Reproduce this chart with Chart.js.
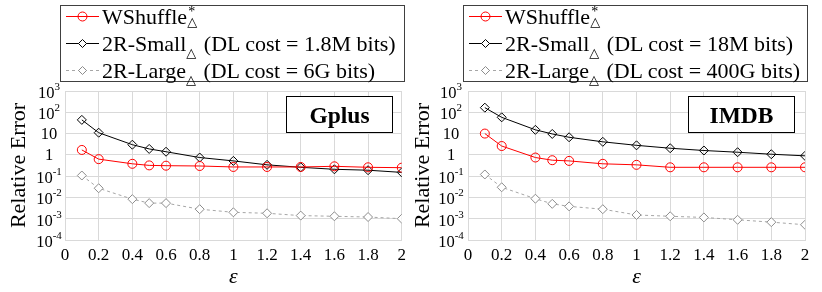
<!DOCTYPE html>
<html><head><meta charset="utf-8">
<script src="https://cdn.jsdelivr.net/npm/chart.js@4"></script>
<style>
body{margin:0;width:822px;height:292px;background:#fff;position:relative;overflow:hidden;font-family:"Liberation Serif","Times New Roman",serif;}
.panel{position:absolute;top:0;width:411px;height:292px;}
.panel canvas{position:absolute;left:0;top:0;}
.legend{position:absolute;top:5px;width:343px;height:75px;border:1px solid #404040;background:#fff;}
.row{position:absolute;left:0;height:27px;font-size:22px;line-height:27px;white-space:nowrap;color:#000;}
.row svg{position:absolute;left:5px;top:0;}
.row .t{position:absolute;left:41px;top:0;}
.stk{display:inline-block;position:relative;width:12px;height:10px;}
.stk .sp{position:absolute;left:1px;top:-9px;font-size:14px;line-height:14px;}
.stk .sb{position:absolute;left:0;top:1px;font-size:13px;line-height:13px;font-family:"DejaVu Sans";}
.sub{font-size:13px;font-family:"DejaVu Sans";position:relative;top:6px;margin-right:2px;}
.tag{position:absolute;top:96px;width:105px;height:35px;border:1px solid #000;background:#fff;font-weight:bold;font-size:23.5px;text-align:center;line-height:36px;color:#000;}
</style></head>
<body>
<div class="panel" style="left:0"><canvas id="c1" width="411" height="292"></canvas>
  <div class="legend" style="left:60px">
    <div class="row" style="top:-3px"><svg width="34" height="27"><line x1="0" y1="13.5" x2="33" y2="13.5" stroke="#ff0000" stroke-width="1"/><circle cx="16.5" cy="13.5" r="4.5" fill="none" stroke="#ff0000"/></svg><span class="t">WShuffle<span class="stk"><span class="sp">*</span><span class="sb">△</span></span></span></div>
    <div class="row" style="top:24px"><svg width="34" height="27"><line x1="0" y1="13.5" x2="33" y2="13.5" stroke="#000" stroke-width="1"/><path d="M12.5 13.5 L16.5 9.5 L20.5 13.5 L16.5 17.5 Z" fill="#fff" stroke="#000"/></svg><span class="t">2R-Small<span class="sub">△</span> (DL cost = 1.8M bits)</span></div>
    <div class="row" style="top:51px"><svg width="34" height="27"><line x1="0" y1="13.5" x2="33" y2="13.5" stroke="#a6a6a6" stroke-width="1" stroke-dasharray="3,3"/><path d="M12.5 13.5 L16.5 9.5 L20.5 13.5 L16.5 17.5 Z" fill="#fff" stroke="#8c8c8c"/></svg><span class="t">2R-Large<span class="sub">△</span> (DL cost = 6G bits)</span></div>
  </div>
  <div class="tag" style="left:286px">Gplus</div>
</div>
<div class="panel" style="left:411px"><canvas id="c2" width="411" height="292"></canvas>
  <div class="legend" style="left:52px">
    <div class="row" style="top:-3px"><svg width="34" height="27"><line x1="0" y1="13.5" x2="33" y2="13.5" stroke="#ff0000" stroke-width="1"/><circle cx="16.5" cy="13.5" r="4.5" fill="none" stroke="#ff0000"/></svg><span class="t">WShuffle<span class="stk"><span class="sp">*</span><span class="sb">△</span></span></span></div>
    <div class="row" style="top:24px"><svg width="34" height="27"><line x1="0" y1="13.5" x2="33" y2="13.5" stroke="#000" stroke-width="1"/><path d="M12.5 13.5 L16.5 9.5 L20.5 13.5 L16.5 17.5 Z" fill="#fff" stroke="#000"/></svg><span class="t">2R-Small<span class="sub">△</span> (DL cost = 18M bits)</span></div>
    <div class="row" style="top:51px"><svg width="34" height="27"><line x1="0" y1="13.5" x2="33" y2="13.5" stroke="#a6a6a6" stroke-width="1" stroke-dasharray="3,3"/><path d="M12.5 13.5 L16.5 9.5 L20.5 13.5 L16.5 17.5 Z" fill="#fff" stroke="#8c8c8c"/></svg><span class="t">2R-Large<span class="sub">△</span> (DL cost = 400G bits)</span></div>
  </div>
  <div class="tag" style="left:277px">IMDB</div>
</div>
<script>
const eps = [0.1, 0.2, 0.4, 0.5, 0.6, 0.8, 1, 1.2, 1.4, 1.6, 1.8, 2];
const xTicks = [0, 0.2, 0.4, 0.6, 0.8, 1, 1.2, 1.4, 1.6, 1.8, 2];
const yExponents = [-4, -3, -2, -1, 0, 1, 2, 3];

const gplusWShuffle = [1.7, 0.63, 0.38, 0.32, 0.31, 0.30, 0.27, 0.27, 0.27, 0.29, 0.26, 0.25];
const gplusSmall    = [44, 11, 3.0, 1.9, 1.4, 0.75, 0.52, 0.34, 0.26, 0.21, 0.19, 0.15];
const gplusLarge    = [0.107, 0.027, 0.0083, 0.0054, 0.0054, 0.0028, 0.0020, 0.0018, 0.0014, 0.0013, 0.0012, 0.0010];

const imdbWShuffle = [10, 2.6, 0.75, 0.56, 0.52, 0.38, 0.34, 0.26, 0.26, 0.26, 0.26, 0.26];
const imdbSmall    = [165, 58, 15, 9.6, 6.7, 4.1, 2.8, 2.05, 1.6, 1.33, 1.07, 0.9];
const imdbLarge    = [0.12, 0.030, 0.0087, 0.0050, 0.0038, 0.0028, 0.0015, 0.0013, 0.00115, 0.00089, 0.00069, 0.00052];

const FONT = '"Liberation Serif", "Times New Roman", serif';

const yLabelPlugin = {
  id: 'yLabels',
  afterDraw(chart) {
    const s = chart.scales.y, ctx = chart.ctx, cx = chart.options.plugins.yLabels.center;
    ctx.save();
    ctx.fillStyle = '#000';
    ctx.textBaseline = 'middle';
    ctx.textAlign = 'left';
    yExponents.forEach(e => {
      const y = s.getPixelForValue(Math.pow(10, e));
      const base = e === 0 ? '1' : '10';
      const sup = (e === 0 || e === 1) ? '' : String(e);
      ctx.font = '16.5px ' + FONT;
      const wb = ctx.measureText(base).width;
      ctx.font = '11px ' + FONT;
      const ws = sup ? ctx.measureText(sup).width : 0;
      const x0 = cx - (wb + ws) / 2;
      ctx.font = '16.5px ' + FONT;
      ctx.fillText(base, x0, y + (sup ? 2.5 : 1));
      if (sup) { ctx.font = '11px ' + FONT; ctx.fillText(sup, x0 + wb, y - 4); }
    });
    ctx.restore();
  }
};

function makeChart(id, ws, small, large, cfg) {
  const pts = arr => eps.map((x, i) => ({x: x, y: arr[i]}));
  return new Chart(document.getElementById(id), {
    type: 'line',
    data: {
      datasets: [
        {label: 'WShuffle', data: pts(ws), borderColor: '#ff0000', borderWidth: 1,
         pointStyle: 'circle', pointRadius: 4.5, pointBorderColor: '#ff0000', pointBorderWidth: 1,
         pointBackgroundColor: 'rgba(0,0,0,0)', tension: 0},
        {label: '2R-Small', data: pts(small), borderColor: '#000', borderWidth: 1,
         pointStyle: 'rectRot', pointRadius: 4.5, pointBorderColor: '#000', pointBorderWidth: 1,
         pointBackgroundColor: 'rgba(255,255,255,0)', tension: 0},
        {label: '2R-Large', data: pts(large), borderColor: '#a6a6a6', borderWidth: 1, borderDash: [3, 3],
         pointStyle: 'rectRot', pointRadius: 4.5, pointBorderColor: '#8c8c8c', pointBorderWidth: 1,
         pointBackgroundColor: '#fff', tension: 0}
      ]
    },
    options: {
      responsive: false, animation: false,
      layout: {padding: {left: 0, right: cfg.padRight, top: 91, bottom: 0}},
      plugins: {legend: {display: false}, tooltip: {enabled: false}, yLabels: {center: cfg.labelCenter}},
      scales: {
        x: {
          type: 'linear', min: 0, max: 2,
          afterBuildTicks: s => { s.ticks = xTicks.map(v => ({value: v})); },
          ticks: {font: {family: FONT, size: 17}, color: '#000', padding: 5, maxRotation: 0, autoSkip: false,
                  callback: v => String(Number(v.toFixed(1)))},
          grid: {color: '#d9d9d9', drawTicks: false},
          border: {color: '#d9d9d9'},
          title: {display: true, text: 'ε', color: '#000', font: {family: FONT, size: 22, style: 'italic'}, padding: {top: 0, bottom: 2}},
          afterFit: s => { s.height = 52; }
        },
        y: {
          type: 'logarithmic', min: 1e-4, max: 1e3,
          afterBuildTicks: s => { s.ticks = yExponents.map(e => ({value: Math.pow(10, e)})); },
          ticks: {display: false},
          grid: {color: '#d9d9d9', drawTicks: false},
          border: {color: '#d9d9d9'},
          title: {display: true, text: 'Relative Error', color: '#000', font: {family: FONT, size: 22}, padding: {top: cfg.titlePad, bottom: 0}},
          afterFit: s => { s.width = cfg.axisWidth; }
        }
      }
    },
    plugins: [yLabelPlugin]
  });
}

makeChart('c1', gplusWShuffle, gplusSmall, gplusLarge, {padRight: 9, axisWidth: 65, labelCenter: 49, titlePad: 6});
makeChart('c2', imdbWShuffle, imdbSmall, imdbLarge, {padRight: 17, axisWidth: 57, labelCenter: 40, titlePad: -1});
</script>
</body></html>
